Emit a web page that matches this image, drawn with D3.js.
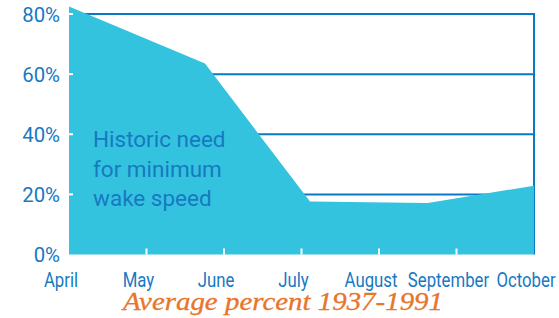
<!DOCTYPE html>
<html>
<head>
<meta charset="utf-8">
<script src="https://cdn.jsdelivr.net/npm/d3@7"></script>
<style>
  html, body { margin: 0; padding: 0; background: #fff; }
  svg { display: block; }
</style>
</head>
<body>
<svg id="chart" width="559" height="318"></svg>
<script>
// ---- data ----
const months = ["April", "May", "June", "July", "August", "September", "October"];
// x position in months from the start of April (0) to the start of October (6)
const pointMonths = [0, 1.755, 3.11, 4.63, 6];
const pointValues = [82.5, 63.5, 17.6, 17.1, 22.9];
const yTicks = [0, 20, 40, 60, 80];
const yTickLabels = ["0%", "20%", "40%", "60%", "80%"];
const areaLabel = ["Historic need", "for minimum", "wake speed"];
const title = "Average percent 1937-1991";

// ---- styles ----
const fillColor = "#34c3de";
const lineColor = "#0a79c5";
const textColor = "#1679c2";
const titleColor = "#e8752a";
const sansFont = "Roboto, 'Liberation Sans', sans-serif";

const svg = d3.select("#chart");
const plotLeft = 69, plotRight = 534, plotTop = 14, plotBottom = 254.5;

const x = d3.scaleLinear().domain([0, months.length - 1]).range([plotLeft, plotRight]);
const y = d3.scaleLinear().domain([0, 80]).range([plotBottom, plotTop]);

const data = pointMonths.map((m, i) => ({ m, v: pointValues[i] }));

// gridlines (behind area)
svg.append("g")
  .selectAll("line")
  .data(yTicks.filter(d => d > 0))
  .join("line")
  .attr("x1", plotLeft).attr("x2", plotRight + 1)
  .attr("y1", d => y(d)).attr("y2", d => y(d))
  .attr("stroke", lineColor).attr("stroke-width", 2);

// right border
svg.append("line")
  .attr("x1", plotRight).attr("x2", plotRight)
  .attr("y1", y(80) - 1).attr("y2", plotBottom)
  .attr("stroke", lineColor).attr("stroke-width", 2);

// area
const area = d3.area()
  .x(d => x(d.m))
  .y0(y(0))
  .y1(d => y(d.v));
svg.append("path")
  .datum(data)
  .attr("d", area)
  .attr("fill", fillColor);

// white y ticks
svg.append("g")
  .selectAll("line")
  .data(yTicks.filter(d => d > 0))
  .join("line")
  .attr("x1", plotLeft).attr("x2", plotLeft + 4)
  .attr("y1", d => y(d)).attr("y2", d => y(d))
  .attr("stroke", "#fff").attr("stroke-width", 2);

// white x ticks
svg.append("g")
  .selectAll("line")
  .data(d3.range(1, months.length - 1))
  .join("line")
  .attr("x1", d => x(d)).attr("x2", d => x(d))
  .attr("y1", plotBottom - 6).attr("y2", plotBottom)
  .attr("stroke", "#fff").attr("stroke-width", 2);

// y labels
svg.append("g")
  .selectAll("text")
  .data(yTicks)
  .join("text")
  .attr("transform", d => `translate(60,${y(d) + 7.5}) scale(0.97,1)`)
  .attr("text-anchor", "end")
  .attr("font-family", sansFont)
  .attr("font-weight", 450)
  .attr("font-size", 21)
  .attr("fill", textColor)
  .text((d, i) => yTickLabels[i]);

// x labels (condensed)
svg.append("g")
  .selectAll("text")
  .data(months)
  .join("text")
  .attr("transform", (d, i) => `translate(${x(i) - 8},286.5) scale(0.86,1)`)
  .attr("text-anchor", "middle")
  .attr("font-family", sansFont)
  .attr("font-weight", 450)
  .attr("font-size", 19.5)
  .attr("fill", textColor)
  .text(d => d);

// in-area label
svg.append("g")
  .selectAll("text")
  .data(areaLabel)
  .join("text")
  .attr("transform", (d, i) => `translate(93,${147 + i * 29.5})`)
  .attr("font-family", sansFont)
  .attr("font-weight", 400)
  .attr("font-size", 22.5)
  .attr("fill", textColor)
  .text(d => d);

// title
svg.append("text")
  .attr("x", 123)
  .attr("y", 309.5)
  .attr("font-family", "'Liberation Serif', 'Times New Roman', serif")
  .attr("font-style", "italic")
  .attr("font-size", 25.5)
  .attr("fill", titleColor)
  .attr("stroke", titleColor)
  .attr("stroke-width", 0.3)
  .attr("textLength", 320)
  .attr("lengthAdjust", "spacingAndGlyphs")
  .text(title);
</script>
</body>
</html>
